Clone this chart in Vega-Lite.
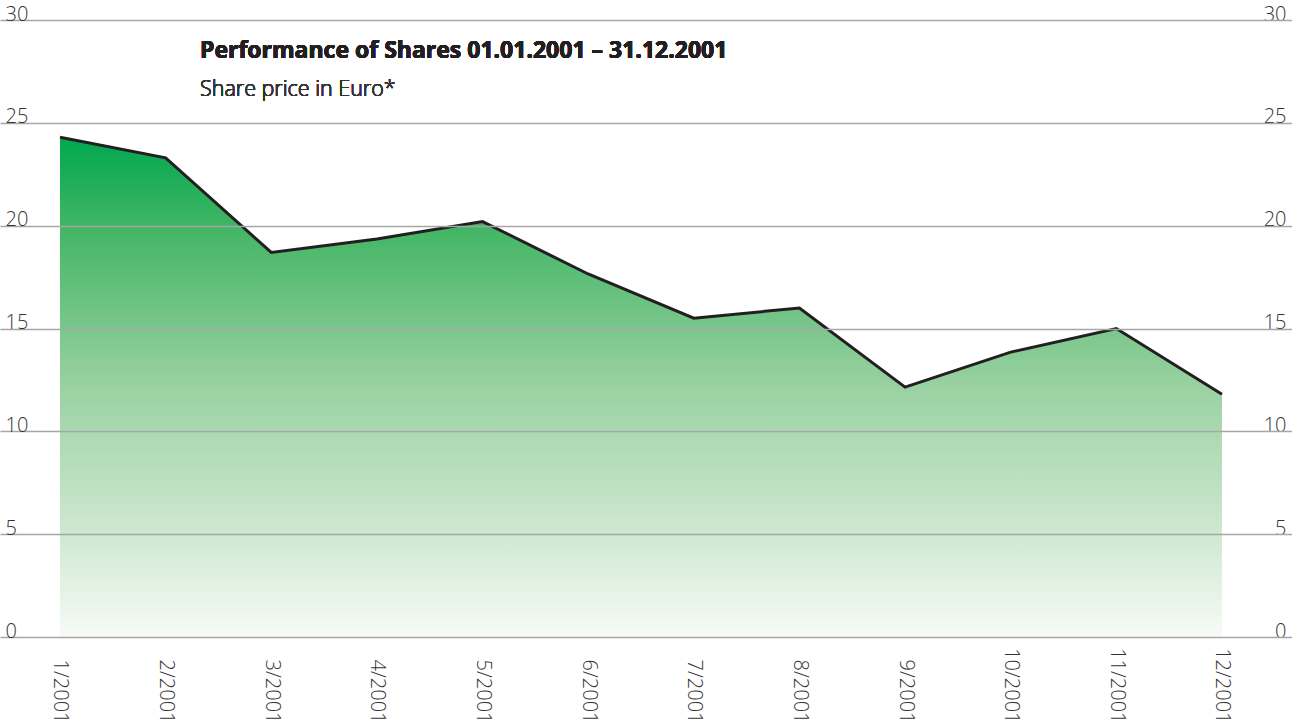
{
  "$schema": "https://vega.github.io/schema/vega-lite/v6.json",
  "width": 1292,
  "height": 617,
  "autosize": {"type": "none"},
  "padding": {"left": 0, "top": 20, "right": 0, "bottom": 91},
  "background": "white",
  "config": {"view": {"stroke": null}, "font": "Open Sans"},
  "data": {"values": [
    {"month": 1, "price": 24.3},
    {"month": 2, "price": 23.3},
    {"month": 3, "price": 18.7},
    {"month": 4, "price": 19.35},
    {"month": 5, "price": 20.2},
    {"month": 6, "price": 17.65},
    {"month": 7, "price": 15.5},
    {"month": 8, "price": 16.0},
    {"month": 9, "price": 12.15},
    {"month": 10, "price": 13.85},
    {"month": 11, "price": 15.0},
    {"month": 12, "price": 11.8}
  ]},
  "encoding": {
    "x": {"field": "month", "type": "quantitative",
      "scale": {"domain": [0.432, 12.663], "nice": false, "zero": false},
      "axis": {"values": [1,2,3,4,5,6,7,8,9,10,11,12], "labelExpr": "datum.value + '/2001'",
        "labelAngle": 90, "labelAlign": "right", "labelBaseline": "middle", "labelPadding": 86,
        "ticks": false, "domain": false, "grid": false, "title": null,
        "labelFontSize": 20, "labelColor": "#333333", "labelFont": "Open Sans", "labelFontWeight": 300}},
    "y": {"field": "price", "type": "quantitative",
      "scale": {"domain": [0, 30], "nice": false}}
  },
  "layer": [
    {
      "mark": {"type": "area", "color": {"gradient": "linear", "x1": 0, "y1": 0, "x2": 0, "y2": 1,
        "stops": [
          {"offset": 0, "color": "#00a84e"},
          {"offset": 0.2, "color": "#48b768"},
          {"offset": 0.5, "color": "#9ad1a2"},
          {"offset": 0.8, "color": "#d0e9d2"},
          {"offset": 1, "color": "#f7fbf7"}
        ]}},
      "encoding": {
        "y": {"field": "price", "type": "quantitative",
          "axis": {"orient": "left", "values": [0,5,10,15,20,25,30], "grid": true, "gridColor": "#a6a6a6", "gridWidth": 1.3,
            "gridOpacity": 1, "zindex": 1, "ticks": false, "domain": false, "title": null,
            "labelAlign": "left", "labelBaseline": "alphabetic", "labelPadding": -5, "labelFontSize": 20,
            "labelColor": "#333333", "labelFontWeight": 300}}
      }
    },
    {
      "mark": {"type": "line", "color": "#231f20", "strokeWidth": 3, "strokeJoin": "miter"},
      "encoding": {
        "y": {"field": "price", "type": "quantitative",
          "axis": {"orient": "right", "values": [0,5,10,15,20,25,30], "grid": false, "ticks": false, "domain": false, "title": null,
            "labelAlign": "right", "labelBaseline": "alphabetic", "labelPadding": -6, "labelFontSize": 20,
            "labelColor": "#333333", "labelFontWeight": 300}}
      }
    },
    {
      "mark": {"type": "text", "text": "Performance of Shares 01.01.2001 – 31.12.2001", "align": "left", "baseline": "alphabetic",
        "fontSize": 23, "fontWeight": "bold", "color": "#231f20", "font": "Open Sans"},
      "encoding": {"x": {"datum": 2.325}, "y": {"datum": 28.15, "axis": null}}
    },
    {
      "mark": {"type": "text", "text": "Share price in Euro*", "align": "left", "baseline": "alphabetic",
        "fontSize": 21.5, "color": "#333333", "font": "Open Sans", "fontWeight": 300},
      "encoding": {"x": {"datum": 2.325}, "y": {"datum": 26.3, "axis": null}}
    }
  ],
  "resolve": {"scale": {"y": "shared"}, "axis": {"y": "independent"}}
}
